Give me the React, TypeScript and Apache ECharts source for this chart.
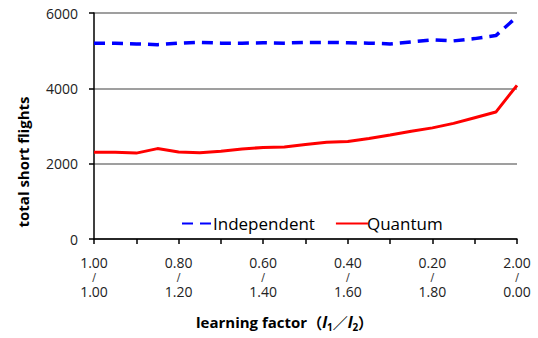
import React, { useEffect, useRef } from "react";
import * as echarts from "echarts";

const l1Labels = ["1.00","0.95","0.90","0.85","0.80","0.75","0.70","0.65","0.60","0.55","0.50","0.45","0.40","0.35","0.30","0.25","0.20","0.15","0.10","0.05","2.00"];
const l2Labels = ["1.00","1.05","1.10","1.15","1.20","1.25","1.30","1.35","1.40","1.45","1.50","1.55","1.60","1.65","1.70","1.75","1.80","1.85","1.90","1.95","0.00"];
const independent = [5200,5200,5180,5160,5200,5220,5200,5200,5210,5200,5220,5220,5210,5200,5180,5230,5290,5260,5320,5400,5900];
const quantum = [2300,2300,2280,2400,2310,2290,2330,2390,2430,2440,2510,2570,2590,2670,2760,2860,2950,3070,3220,3370,4080];
const yTicks = { min: 0, max: 6000, interval: 2000 };

const FONT = "'Open Sans', 'Noto Sans', sans-serif";
const CJK = "'Noto Sans CJK JP', 'Noto Sans', sans-serif";

export default function App() {
  const ref = useRef<HTMLDivElement>(null);
  useEffect(() => {
    if (!ref.current) return;
    const chart = echarts.init(ref.current, undefined, { renderer: "svg" });
    const categories = l1Labels.map((a, i) => a + "/" + l2Labels[i]);
    chart.setOption({
      animation: false,
      grid: { left: 94, right: 21, top: 13, bottom: 99, containLabel: false },
      legend: {
        left: 176,
        top: 210,
        itemWidth: 32,
        itemHeight: 14,
        itemGap: 20,
        itemStyle: { opacity: 0 },
        textStyle: { fontFamily: FONT, fontSize: 17, color: "#000", padding: [0, 0, 0, -6] },
        data: ["Independent", "Quantum"],
      },
      xAxis: {
        type: "category",
        data: categories,
        boundaryGap: false,
        axisLine: { lineStyle: { color: "#000", width: 1.5 } },
        axisTick: { interval: 1, length: 5, inside: false, lineStyle: { color: "#000", width: 1.5 } },
        axisLabel: {
          interval: 3,
          margin: 15,
          formatter: (_v: string, idx: number) =>
            `{a|${l1Labels[idx]}}\n{s|/}\n{a|${l2Labels[idx]}}`,
          rich: {
            a: { fontFamily: FONT, fontSize: 14, color: "#222", lineHeight: 17 },
            s: { fontFamily: "'DejaVu Sans', sans-serif", fontSize: 11, color: "#333", lineHeight: 12 },
          },
        },
        splitLine: { show: false },
      },
      yAxis: {
        type: "value",
        min: yTicks.min,
        max: yTicks.max,
        interval: yTicks.interval,
        axisLine: { show: true, lineStyle: { color: "#000", width: 1.5 } },
        axisTick: { show: true, length: 5, lineStyle: { color: "#000", width: 1.5 } },
        axisLabel: { margin: 16, fontFamily: FONT, fontSize: 14, color: "#222", formatter: (v: number) => String(v) },
        splitLine: { show: true, lineStyle: { color: "#7f7f7f", width: 1.5 } },
      },
      graphic: [
        {
          type: "text",
          x: 23,
          y: 162,
          rotation: Math.PI / 2,
          style: {
            text: "total short flights",
            font: `bold 15px ${FONT}`,
            fill: "#000",
            align: "center",
            verticalAlign: "middle",
          },
        },
        {
          type: "text",
          x: 196,
          y: 322,
          style: {
            text: "{b|learning factor}{c|（}{i|l}{sub|1}{c|／}{i|l}{sub|2}{c|）}",
            verticalAlign: "middle",
            rich: {
              b: { fontFamily: FONT, fontWeight: "bold", fontSize: 15, fill: "#000", lineHeight: 20, verticalAlign: "middle" },
              c: { fontFamily: CJK, fontWeight: "bold", fontSize: 15, fill: "#000", lineHeight: 20, verticalAlign: "middle" },
              i: { fontFamily: FONT, fontWeight: "bold", fontStyle: "italic", fontSize: 16, fill: "#000", lineHeight: 20, verticalAlign: "middle" },
              sub: { fontFamily: FONT, fontWeight: "bold", fontSize: 10, fill: "#000", lineHeight: 12, verticalAlign: "bottom" },
            },
          },
        },
      ],
      series: [
        {
          name: "Independent",
          type: "line",
          data: independent,
          symbol: "none",
          lineStyle: { color: "#0000ff", width: 3.5, type: [11, 7] },
          itemStyle: { color: "#0000ff" },
        },
        {
          name: "Quantum",
          type: "line",
          data: quantum,
          symbol: "none",
          lineStyle: { color: "#ff0000", width: 3 },
          itemStyle: { color: "#ff0000" },
        },
      ],
    });
    return () => chart.dispose();
  }, []);
  return <div ref={ref} style={{ width: 538, height: 338, position: "absolute", left: 0, top: 0 }} />;
}
